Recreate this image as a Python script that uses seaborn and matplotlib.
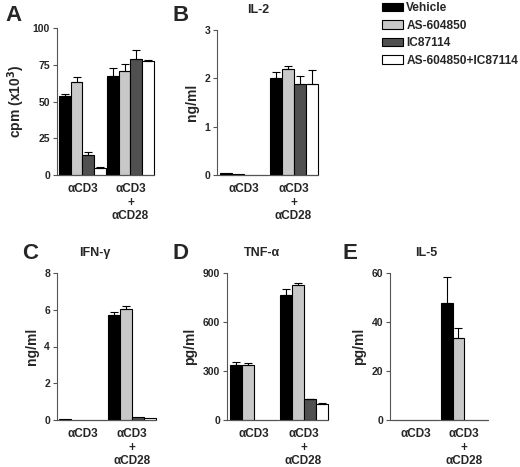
import numpy as np
import pandas as pd
import matplotlib
matplotlib.use("Agg")
import matplotlib.pyplot as plt
from matplotlib.container import BarContainer
import seaborn as sns

sns.set_style("ticks")
plt.rcParams["font.family"] = ["Liberation Sans", "DejaVu Sans"]
plt.rcParams["font.weight"] = "bold"

groups = ["αCD3", "αCD3\n+\nαCD28"]
treatments = ["Vehicle", "AS-604850", "IC87114", "AS-604850+IC87114"]
colors = ["#000000", "#c8c8c8", "#505050", "#ffffff"]

# values: [group][treatment]
A_mean = [[53.5, 63.0, 13.5, 4.5], [67.5, 70.8, 79.0, 77.8]]
A_err = [[1.7, 3.5, 1.9, 1.1], [5.2, 4.7, 6.0, 0.6]]
B_mean = [[0.04, 0.03, 0.0, 0.0], [2.01, 2.19, 1.89, 1.88]]
B_err = [[0.0, 0.0, 0.0, 0.0], [0.13, 0.06, 0.16, 0.29]]
C_mean = [[0.03, 0.02, 0.0, 0.0], [5.73, 6.05, 0.18, 0.13]]
C_err = [[0.0, 0.0, 0.0, 0.0], [0.15, 0.18, 0.0, 0.0]]
D_mean = [[337, 337, 0, 0], [763, 824, 126, 100]]
D_err = [[19, 14, 0, 0], [39, 13, 4, 2]]
E_mean = [[0, 0, 0, 0], [47.7, 33.4, 0, 0]]
E_err = [[0, 0, 0, 0], [10.8, 4.0, 0, 0]]

panels = [
    ("A", A_mean, A_err, "cpm (x10$^\\mathbf{3}$)", [0, 25, 50, 75, 100], None),
    ("B", B_mean, B_err, "ng/ml", [0, 1, 2, 3], "IL-2"),
    ("C", C_mean, C_err, "ng/ml", [0, 2, 4, 6, 8], "IFN-γ"),
    ("D", D_mean, D_err, "pg/ml", [0, 300, 600, 900], "TNF-α"),
    ("E", E_mean, E_err, "pg/ml", [0, 20, 40, 60], "IL-5"),
]

W, H = 520, 467
fig = plt.figure(figsize=(W / 100, H / 100), dpi=100)

# axes boxes in pixels: left, right, top, bottom
boxes = {
    "A": (57, 154, 28, 175),
    "B": (217, 318, 30, 175),
    "C": (57, 156, 273, 420),
    "D": (227, 328, 273, 420),
    "E": (390, 488, 273, 420),
}
letters = {"A": (5, 5), "B": (172, 5), "C": (22, 243), "D": (172, 243), "E": (343, 243)}
titles = {"B": (258, 10), "C": (95, 253), "D": (262, 253), "E": (426, 253)}

for key, mean, err, ylabel, yticks, title in panels:
    l, r, t, b = boxes[key]
    ax = fig.add_axes([l / W, 1 - b / H, (r - l) / W, (b - t) / H])
    rows = []
    for gi, g in enumerate(groups):
        for ti, tr in enumerate(treatments):
            rows.append({"group": g, "treatment": tr, "value": mean[gi][ti]})
    df = pd.DataFrame(rows)
    sns.barplot(data=df, x="group", y="value", hue="treatment", order=groups,
                hue_order=treatments, palette=colors, edgecolor="black",
                linewidth=0.8, width=0.96, gap=0, errorbar=None, legend=False,
                saturation=1, ax=ax)
    bar_conts = [c for c in ax.containers if isinstance(c, BarContainer)]
    for ti, cont in enumerate(bar_conts):
        for gi, bar in enumerate(cont):
            bar.set_clip_on(False)
            e = err[gi][ti]
            if e > 0:
                x = bar.get_x() + bar.get_width() / 2
                h = bar.get_height()
                ax.errorbar(x, h, yerr=[[0], [e]], color="black", lw=0.8,
                            capsize=3, capthick=0.8, clip_on=False)
    ax.set_xlim(-0.53, 1.49)
    ax.set_ylim(0, yticks[-1])
    ax.set_yticks(yticks)
    ax.set_yticklabels([str(v) for v in yticks], fontsize=7.5, fontweight="bold")
    ax.set_xticks([0, 1])
    ax.set_xticklabels(groups, fontsize=8.5, fontweight="bold", linespacing=1.15, va="top")
    ax.tick_params(axis="x", length=0, pad=6)
    ax.tick_params(axis="y", length=3, width=0.8, color="#555555", pad=2)
    ax.set_xlabel("")
    ax.set_ylabel(ylabel, fontsize=10, fontweight="bold", labelpad=4)
    for s in ["top", "right"]:
        ax.spines[s].set_visible(False)
    for s in ["left", "bottom"]:
        ax.spines[s].set_color("#555555")
        ax.spines[s].set_linewidth(0.8)
    lx, ly = letters[key]
    fig.text(lx / W, 1 - ly / H, key, fontsize=16, fontweight="bold", va="top", ha="left")
    if title:
        tx, ty = titles[key]
        fig.text(tx / W, 1 - ty / H, title, fontsize=9, fontweight="bold", va="center", ha="center")

handles = [plt.Rectangle((0, 0), 1, 1, facecolor=c, edgecolor="black", linewidth=0.8) for c in colors]
fig.legend(handles, treatments, loc="upper left", bbox_to_anchor=(379.5 / W, 1.0),
           frameon=False, prop={"size": 8.6, "weight": "bold"}, handlelength=1.75,
           handleheight=0.7, labelspacing=0.45, handletextpad=0.3, borderaxespad=0.0,
           borderpad=0.2)

fig.savefig("out.png", dpi=100)
